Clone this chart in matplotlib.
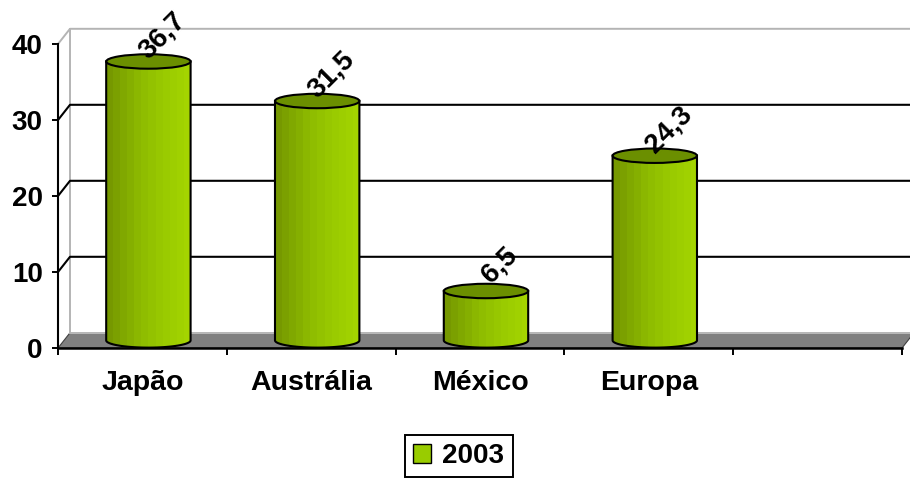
import numpy as np
import matplotlib
matplotlib.use("Agg")
import matplotlib.pyplot as plt
from matplotlib.patches import Polygon, Ellipse, PathPatch, Patch
from matplotlib.path import Path
from matplotlib.lines import Line2D
from matplotlib.colors import LinearSegmentedColormap

# ---- data ----
categories = ["Japão", "Austrália", "México", "Europa"]
values_2003 = [36.7, 31.5, 6.5, 24.3]
series_name = "2003"
n_slots = 5                      # one empty slot at the right end
y_ticks = [0, 10, 20, 30, 40]

plt.rcParams["font.family"] = ["Liberation Sans", "DejaVu Sans"]
plt.rcParams["font.weight"] = "bold"

fig = plt.figure(figsize=(9.1, 4.8), dpi=100)
ax = fig.add_axes([58 / 910, 132 / 480, 844 / 910, 304 / 480])
ax.set_xlim(0, n_slots)
ax.set_ylim(0, y_ticks[-1])

# oblique depth of the 3-D box, in data units
DX, DY = 0.071, 2.0
ymax = y_ticks[-1]

# floor
ax.add_patch(Polygon([(0, 0), (DX, DY), (n_slots + DX, DY), (n_slots, 0)],
                     closed=True, facecolor="#808080", edgecolor="#404040",
                     lw=0.8, zorder=1, clip_on=False))
# back-wall bottom edge
ax.add_line(Line2D([DX, n_slots + DX], [DY, DY], color="#c8c8c8", lw=1.2,
                   zorder=2, clip_on=False))
# wall outline (grey)
ax.add_line(Line2D([0, DX, n_slots + DX], [ymax, ymax + DY, ymax + DY],
                   color="#b4b4b4", lw=1.4, zorder=2, clip_on=False))
ax.add_line(Line2D([DX, DX], [DY, ymax + DY], color="#b4b4b4", lw=1.4,
                   zorder=2, clip_on=False))

# gridlines on side wall and back wall
for v in y_ticks[1:-1]:
    ax.add_line(Line2D([0, DX, n_slots + DX], [v, v + DY, v + DY],
                       color="black", lw=1.5, zorder=2, clip_on=False))

# cylinder shading
body_cmap = LinearSegmentedColormap.from_list(
    "cyl", ["#769800", "#82aa00", "#8dba00", "#96c600", "#9dce00", "#a4d400"])
n_strips = 12
grad = np.linspace(0, 1, n_strips).reshape(1, -1)

half_w = 0.25
ell_h = 1.9
for i, v in enumerate(values_2003):
    cx = i + 0.5 + DX / 2
    base = DY / 2
    top = v + DY / 2
    t = np.linspace(np.pi, 2 * np.pi, 40)
    arc_x = cx + half_w * np.cos(t)
    arc_y = base + (ell_h / 2) * np.sin(t)
    verts = ([(cx - half_w, top), (cx - half_w, base)]
             + list(zip(arc_x, arc_y))
             + [(cx + half_w, base), (cx + half_w, top), (cx - half_w, top)])
    codes = [Path.MOVETO] + [Path.LINETO] * (len(verts) - 2) + [Path.CLOSEPOLY]
    body = PathPatch(Path(verts, codes), facecolor="none", edgecolor="black",
                     lw=1.5, zorder=5)
    ax.add_patch(body)
    img = ax.imshow(grad, cmap=body_cmap, aspect="auto", interpolation="nearest",
                    extent=[cx - half_w, cx + half_w, base - ell_h / 2, top],
                    zorder=4)
    img.set_clip_path(body)
    ax.add_patch(Ellipse((cx, top), 2 * half_w, ell_h, facecolor="#6b8f00",
                         edgecolor="black", lw=1.5, zorder=6))
    ax.annotate(f"{v:.1f}".replace(".", ","), xy=(cx, top), xytext=(14, 26),
                textcoords="offset pixels", rotation=45, ha="center",
                va="center", fontsize=20, fontweight="bold", zorder=7)

ax.set_xlim(0, n_slots)
ax.set_ylim(0, ymax)

# axes
for side in ("top", "right"):
    ax.spines[side].set_visible(False)
ax.spines["left"].set_linewidth(1.5)
ax.spines["bottom"].set_linewidth(1.8)
ax.spines["left"].set_zorder(3)
ax.spines["bottom"].set_zorder(3)

ax.set_yticks(y_ticks)
ax.set_yticklabels([str(v) for v in y_ticks], fontsize=20, fontweight="bold")
ax.tick_params(axis="y", length=4, width=1.4, pad=7)

ax.set_xticks(np.arange(n_slots) + 0.5)
ax.set_xticklabels(categories + [""] * (n_slots - len(categories)),
                   fontsize=20.5, fontweight="bold")
ax.set_xticks(np.arange(n_slots + 1), minor=True)
ax.tick_params(axis="x", which="major", length=0, pad=16)
ax.tick_params(axis="x", which="minor", length=5, width=1.4)

leg = fig.legend(handles=[Patch(facecolor="#99cc00", edgecolor="black",
                                label=series_name)],
                 loc="center", bbox_to_anchor=(0.504, 0.050), frameon=True,
                 fancybox=False, edgecolor="black", framealpha=1,
                 prop={"size": 20, "weight": "bold"}, handlelength=0.65,
                 handleheight=0.65, handletextpad=0.4, borderpad=0.3)
leg.get_frame().set_linewidth(1.4)

fig.savefig("out.png", dpi=100)
